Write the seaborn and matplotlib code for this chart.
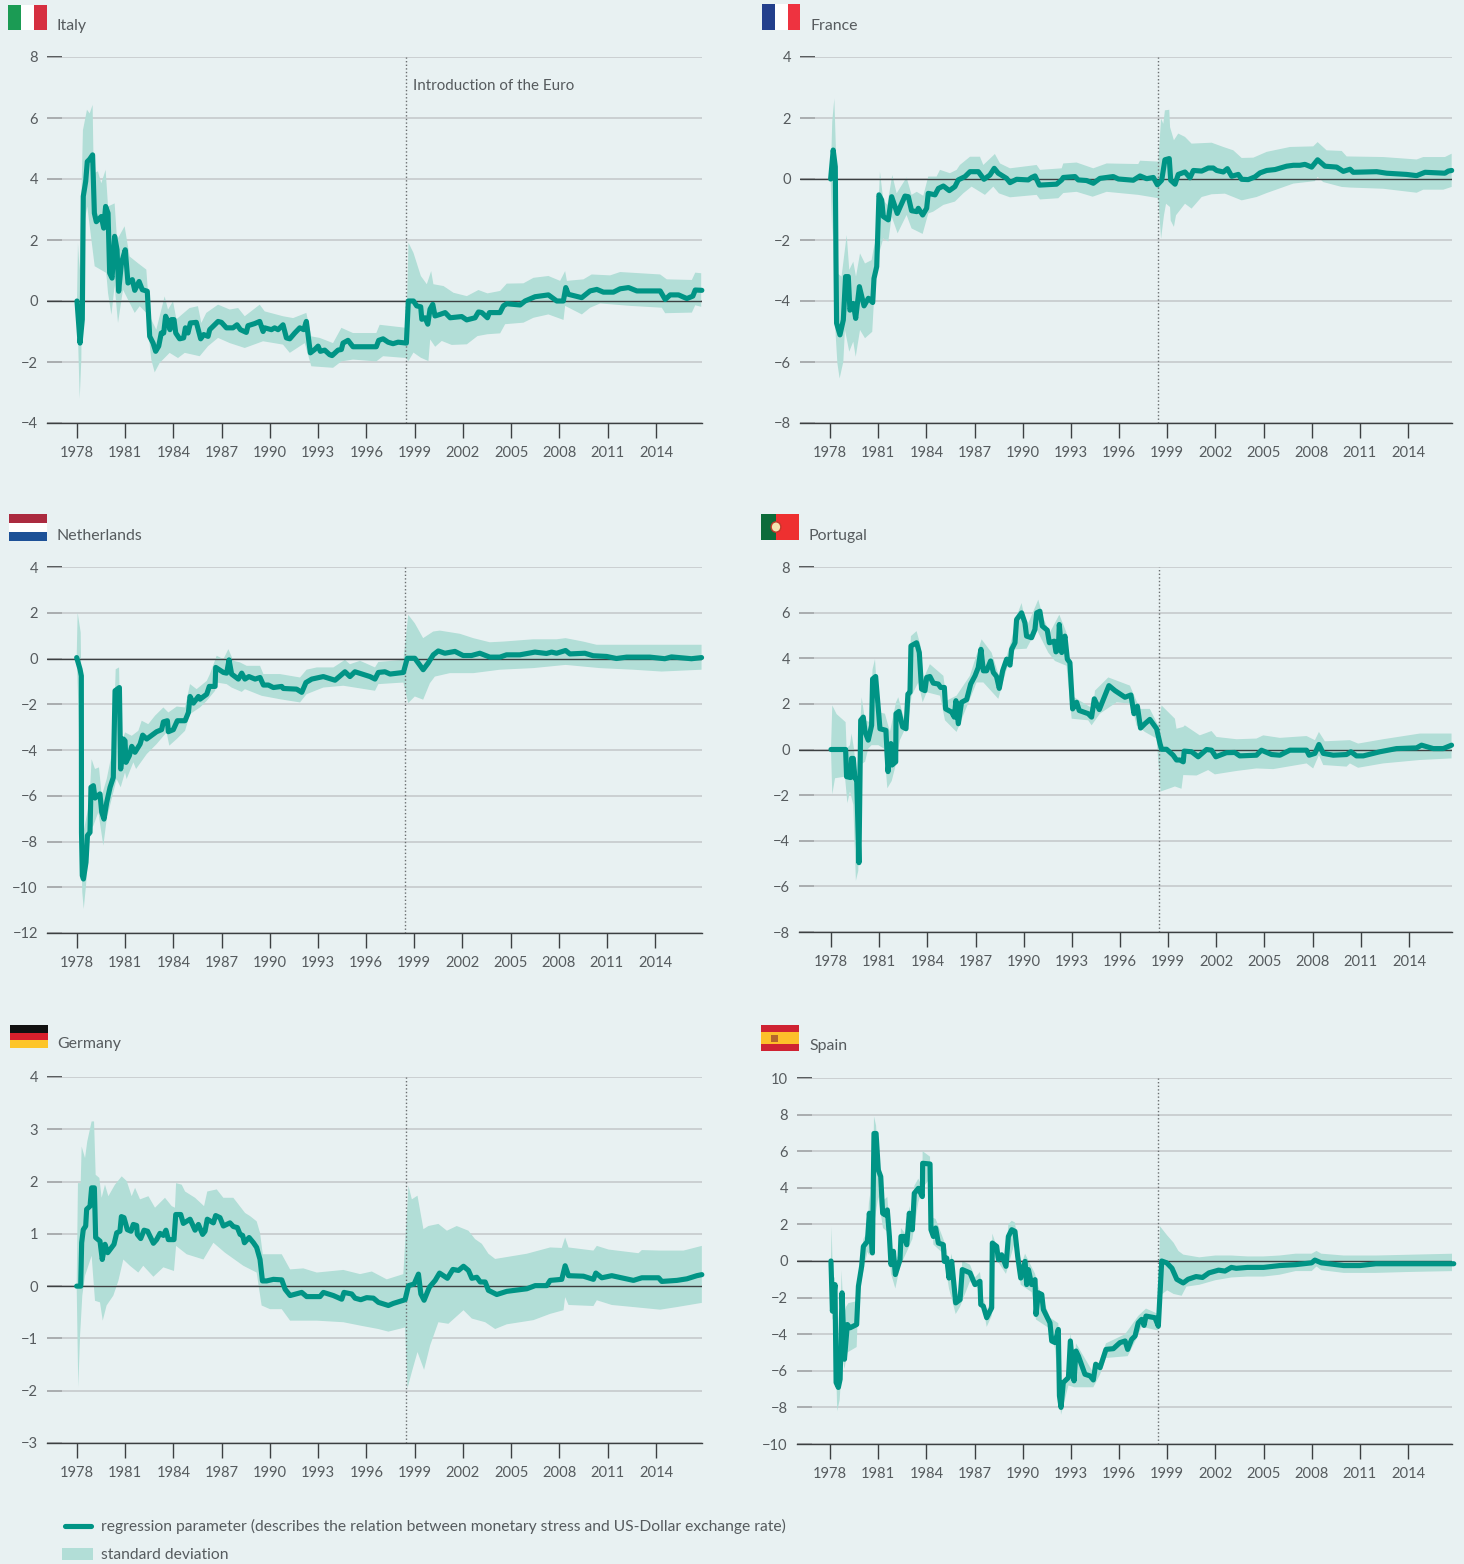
import numpy as np
import matplotlib
matplotlib.use("Agg")
import matplotlib.pyplot as plt
from matplotlib.lines import Line2D
from matplotlib.patches import Rectangle, Circle
import seaborn as sns

W, H = 1464, 1564
TEAL = "#009485"
BAND = "#b2ded7"
BG = "#e8f1f2"
TXT = "#565b5e"

years = list(range(1978, 2015, 3))

# Italy
italy_x = [1978.0,1978.19,1978.33,1978.39,1978.54,1978.64,1978.79,1978.97,1979.08,1979.2,1979.51,1979.66,1979.78,1979.93,1980.03,1980.18,1980.34,1980.49,1980.59,1980.76,1981.0,1981.17,1981.44,1981.59,1981.86,1982.06,1982.37,1982.52,1982.73,1982.89,1983.08,1983.24,1983.39,1983.51,1983.68,1983.78,1983.87,1984.03,1984.14,1984.38,1984.63,1984.74,1984.9,1985.05,1985.42,1985.69,1985.88,1986.15,1986.25,1986.77,1986.98,1987.29,1987.7,1987.95,1988.16,1988.53,1988.63,1989.05,1989.36,1989.57,1989.67,1990.09,1990.29,1990.5,1990.81,1991.02,1991.23,1991.54,1991.85,1992.1,1992.26,1992.51,1992.78,1992.99,1993.13,1993.4,1993.71,1993.86,1994.23,1994.44,1994.54,1994.85,1995.16,1996.61,1996.76,1997.03,1997.34,1997.65,1997.96,1998.48,1998.6,1998.92,1999.12,1999.37,1999.44,1999.64,1999.81,1999.95,2000.12,2000.26,2000.57,2000.89,2001.2,2001.92,2002.23,2002.75,2002.96,2003.17,2003.52,2003.64,2004.3,2004.51,2004.72,2005.55,2005.86,2006.48,2007.31,2007.83,2008.24,2008.39,2008.55,2009.38,2009.9,2010.32,2010.73,2011.35,2011.77,2012.29,2012.81,2014.26,2014.57,2014.88,2015.4,2015.92,2016.29,2016.44,2016.85]
italy_y = [0,-1.38,-0.6,3.43,3.92,4.57,4.65,4.79,2.88,2.6,2.77,2.39,3.1,2.88,0.92,0.75,2.12,1.68,0.32,1.24,1.68,0.59,0.7,0.35,0.64,0.37,0.32,-1.16,-1.38,-1.65,-1.48,-1.05,-1.05,-0.5,-0.72,-0.94,-0.61,-0.61,-1.05,-1.24,-1.21,-0.88,-1.05,-0.72,-0.7,-1.24,-1.1,-1.16,-0.94,-0.67,-0.7,-0.88,-0.88,-0.78,-0.94,-1.03,-0.81,-0.74,-0.67,-1.0,-0.88,-0.94,-0.88,-0.94,-0.78,-1.21,-1.24,-1.05,-0.88,-0.94,-0.67,-1.7,-1.59,-1.48,-1.65,-1.61,-1.76,-1.79,-1.61,-1.59,-1.38,-1.29,-1.5,-1.5,-1.29,-1.24,-1.35,-1.4,-1.35,-1.38,0,0,-0.16,-0.19,-0.6,-0.55,-0.76,-0.27,-0.11,-0.49,-0.44,-0.38,-0.55,-0.51,-0.62,-0.55,-0.36,-0.38,-0.55,-0.38,-0.38,-0.16,-0.09,-0.13,0,0.14,0.2,0,0,0.44,0.22,0.11,0.33,0.38,0.29,0.29,0.4,0.44,0.33,0.33,0.05,0.2,0.2,0.08,0.16,0.36,0.35]
italy_hi_x = [1978.0,1978.06,1978.16,1978.37,1978.62,1978.79,1978.97,1979.04,1979.3,1979.51,1979.78,1979.93,1980.34,1980.49,1980.96,1981.27,1981.79,1982.31,1982.52,1982.93,1983.45,1983.66,1983.97,1984.18,1985.0,1985.52,1985.73,1986.04,1986.77,1987.5,1988.02,1988.43,1989.36,1989.67,1990.81,1991.44,1992.26,1992.57,1993.09,1993.92,1994.44,1995.16,1996.61,1996.82,1998.48,1998.61,1998.92,1999.38,1999.75,2000.02,2000.16,2000.79,2001.41,2002.24,2002.96,2003.52,2004.31,2004.72,2005.76,2006.38,2007.31,2008.04,2008.35,2008.46,2009.49,2010.0,2011.15,2011.77,2014.26,2014.67,2016.23,2016.44,2016.81]
italy_hi = [0,1.9,1.0,5.6,6.27,6.15,6.43,4.19,4.25,3.86,4.3,3.1,3.2,2.0,2.45,1.46,1.24,1.03,-0.5,-0.94,0.15,-0.28,-0.01,-0.6,-0.23,-0.17,-0.72,-0.39,-0.12,-0.28,-0.23,-0.5,-0.12,-0.34,-0.5,-0.56,-0.39,-1.16,-1.21,-1.38,-0.88,-1.05,-1.05,-0.78,-0.88,1.91,1.58,0.82,0.55,0.98,0.55,0.49,0.27,0.16,0.36,0.25,0.33,0.57,0.58,0.76,0.82,0.66,0.98,0.66,0.71,0.87,0.84,0.95,0.87,0.71,0.69,0.93,0.91]
italy_lo_x = [1978.0,1978.17,1978.27,1978.33,1978.64,1979.1,1979.82,1979.93,1980.14,1980.34,1980.55,1980.86,1981.59,1981.9,1982.31,1982.62,1982.83,1983.14,1983.76,1984.28,1984.7,1985.63,1986.15,1986.77,1987.5,1988.43,1989.57,1990.81,1991.23,1992.16,1992.57,1993.92,1994.44,1995.16,1996.61,1997.03,1998.48,1998.61,1998.92,1999.38,1999.85,1999.96,2000.27,2000.68,2001.3,2002.24,2002.9,2003.52,2004.31,2004.62,2005.76,2006.38,2007.31,2008.25,2008.35,2009.39,2009.91,2010.53,2012.4,2014.36,2014.57,2016.23,2016.44,2016.81]
italy_lo = [0,-3.2,-1.9,2.2,3.1,1.14,0.92,0.26,-0.45,0.5,-0.72,0.37,-0.39,-0.17,-0.39,-1.92,-2.34,-2.03,-1.7,-1.87,-1.7,-1.81,-1.48,-1.21,-1.38,-1.54,-1.32,-1.43,-1.7,-1.38,-2.14,-2.19,-1.98,-1.92,-1.98,-1.81,-1.87,-1.97,-1.69,-1.86,-1.97,-1.26,-1.5,-1.31,-1.44,-1.42,-1.15,-1.09,-1.06,-0.76,-0.71,-0.55,-0.44,-0.62,-0.16,-0.44,-0.22,-0.08,-0.16,-0.22,-0.4,-0.38,-0.14,-0.19]

# France
france_x = [1978.04,1978.2,1978.33,1978.37,1978.41,1978.62,1978.83,1978.97,1979.14,1979.24,1979.45,1979.6,1979.83,1980.12,1980.39,1980.66,1980.74,1980.91,1981.05,1981.22,1981.32,1981.63,1981.84,1982.19,1982.67,1982.88,1983.08,1983.4,1983.5,1983.77,1984.02,1984.12,1984.54,1984.75,1985.06,1985.43,1985.78,1985.99,1986.41,1986.72,1987.24,1987.59,1987.96,1988.23,1988.48,1989.0,1989.21,1989.62,1990.35,1990.56,1990.77,1991.04,1992.11,1992.43,1992.53,1993.26,1993.46,1993.98,1994.4,1994.81,1995.64,1995.96,1996.89,1997.31,1997.72,1998.14,1998.39,1998.66,1998.86,1999.13,1999.22,1999.49,1999.69,2000.11,2000.42,2000.63,2001.15,2001.56,2001.87,2002.08,2002.5,2002.75,2003.02,2003.43,2003.64,2004.05,2004.47,2004.78,2005.2,2005.72,2006.44,2006.86,2007.27,2007.58,2008.0,2008.37,2008.83,2009.56,2009.97,2010.39,2010.59,2012.05,2012.67,2013.91,2014.54,2015.06,2016.3,2016.51,2016.72]
france_y = [0,0.95,0.4,-2.55,-4.73,-5.11,-4.62,-3.2,-3.2,-4.3,-4.08,-4.57,-3.53,-4.16,-3.91,-4.05,-3.26,-2.87,-0.52,-0.69,-1.23,-1.34,-0.58,-1.13,-0.56,-0.58,-1.04,-1.07,-0.96,-1.18,-0.96,-0.47,-0.52,-0.31,-0.23,-0.38,-0.25,-0.03,0.08,0.24,0.24,-0.01,0.13,0.35,0.19,0.02,-0.12,-0.01,-0.03,0.05,0.1,-0.2,-0.17,-0.03,0.05,0.08,-0.03,-0.05,-0.14,0.02,0.08,0,-0.04,0.1,0.01,0.05,-0.19,-0.04,0.63,0.67,-0.04,-0.17,0.15,0.23,0.04,0.28,0.26,0.36,0.36,0.28,0.23,0.34,0.09,0.15,-0.01,-0.02,0.07,0.2,0.28,0.31,0.42,0.45,0.45,0.48,0.39,0.63,0.42,0.39,0.25,0.32,0.22,0.24,0.19,0.15,0.11,0.22,0.19,0.26,0.28]
france_hi_x = [1978.04,1978.14,1978.27,1978.37,1978.46,1978.72,1979.04,1979.2,1979.45,1979.62,1979.87,1980.18,1980.59,1980.7,1980.95,1981.11,1981.32,1981.57,1981.88,1982.15,1982.77,1983.08,1983.4,1983.81,1984.12,1984.64,1984.85,1985.47,1985.89,1986.09,1986.72,1987.34,1987.55,1988.27,1988.59,1989.21,1990.87,1991.08,1992.43,1992.53,1993.36,1994.4,1995.23,1997.2,1997.31,1998.45,1998.62,1998.76,1998.86,1999.13,1999.18,1999.42,1999.69,2000.11,2000.52,2001.77,2002.5,2003.12,2003.64,2004.37,2005.2,2006.65,2008.1,2008.37,2008.93,2009.87,2010.18,2012.46,2014.54,2014.95,2016.3,2016.72]
france_hi = [0,1.88,2.64,0.95,-3.09,-3.2,-1.84,-2.98,-2.71,-3.2,-2.44,-2.77,-2.66,-2.33,-1.78,0.24,-0.69,-0.85,0.13,-0.47,0.05,-0.52,-0.42,-0.55,0.08,0.08,0.3,0.19,0.3,0.46,0.73,0.73,0.46,0.82,0.51,0.35,0.46,0.3,0.35,0.51,0.54,0.35,0.51,0.49,0.6,0.57,1.98,1.81,2.25,2.27,1.7,1.27,1.49,1.38,1.16,1.19,1.05,0.94,0.69,0.7,0.89,1.05,1.07,1.21,0.94,0.92,0.74,0.72,0.64,0.72,0.72,0.83]
france_lo_x = [1978.04,1978.14,1978.2,1978.31,1978.46,1978.6,1978.83,1978.93,1979.2,1979.45,1979.6,1979.87,1980.18,1980.63,1980.74,1981.0,1981.32,1981.63,1981.84,1982.21,1982.77,1983.08,1983.77,1984.12,1984.43,1985.06,1985.78,1986.3,1986.82,1987.65,1988.17,1988.52,1989.21,1990.87,1991.08,1992.22,1992.53,1993.36,1994.36,1995.23,1997.2,1998.45,1998.62,1998.8,1998.93,1999.18,1999.22,1999.42,1999.55,2000.11,2000.52,2001.15,2001.77,2002.6,2003.64,2004.57,2005.2,2006.86,2008.2,2008.37,2008.72,2009.87,2010.39,2012.46,2014.54,2014.95,2016.2,2016.72]
france_lo = [0,-1.89,-0.36,-4.73,-6.04,-6.54,-5.99,-4.95,-5.66,-5.33,-5.83,-4.95,-5.22,-5.01,-3.97,-2.55,-1.95,-2.05,-1.23,-1.78,-1.18,-1.62,-1.8,-1.13,-1.07,-0.85,-0.74,-0.47,-0.25,-0.52,-0.25,-0.47,-0.6,-0.52,-0.67,-0.63,-0.46,-0.42,-0.58,-0.42,-0.52,-0.63,-1.96,-1.19,-0.81,-0.92,-1.36,-1.57,-1.19,-0.81,-0.97,-0.59,-0.5,-0.48,-0.7,-0.59,-0.46,-0.15,-0.07,0.07,-0.1,-0.26,-0.28,-0.32,-0.45,-0.35,-0.35,-0.26]

# Netherlands
nl_x = [1977.98,1978.19,1978.27,1978.28,1978.33,1978.4,1978.56,1978.65,1978.81,1978.87,1979.02,1979.12,1979.43,1979.54,1979.68,1979.85,1980.06,1980.26,1980.37,1980.64,1980.72,1980.89,1980.99,1981.05,1981.26,1981.41,1981.61,1981.93,1982.09,1982.34,1982.96,1983.27,1983.38,1983.63,1983.69,1984.0,1984.25,1984.73,1984.94,1985.04,1985.25,1985.56,1985.66,1986.08,1986.24,1986.6,1986.64,1987.12,1987.32,1987.47,1987.63,1988.05,1988.26,1988.46,1988.71,1989.09,1989.4,1989.61,1989.92,1990.23,1990.75,1990.85,1991.68,1992.0,1992.26,1992.62,1993.34,1994.07,1994.69,1995.0,1995.31,1996.25,1996.56,1996.77,1997.18,1997.5,1998.33,1998.57,1999.04,1999.56,1999.87,2000.19,2000.5,2000.91,2001.54,2002.05,2002.57,2003.09,2003.71,2004.34,2004.75,2005.58,2006.52,2007.24,2007.56,2007.87,2008.43,2008.7,2009.63,2010.15,2010.98,2011.6,2012.23,2013.68,2014.61,2015.03,2016.27,2016.9]
nl_y = [0.04,-0.47,-0.76,-7.6,-9.49,-9.64,-8.91,-7.74,-7.6,-5.63,-5.56,-6.1,-5.92,-6.72,-7.02,-6.29,-5.63,-5.2,-1.41,-1.27,-4.83,-3.52,-3.6,-4.54,-4.25,-3.84,-4.1,-3.74,-3.35,-3.52,-3.2,-3.11,-2.77,-2.72,-3.2,-3.11,-2.72,-2.72,-2.36,-1.66,-1.95,-1.66,-1.78,-1.56,-1.22,-1.22,-0.39,-0.61,-0.64,-0.06,-0.68,-0.9,-0.64,-0.9,-0.79,-0.9,-0.83,-1.16,-1.16,-1.27,-1.22,-1.31,-1.34,-1.48,-1.05,-0.9,-0.79,-0.95,-0.58,-0.79,-0.58,-0.79,-0.9,-0.61,-0.58,-0.68,-0.61,0.01,0.01,-0.49,-0.2,0.16,0.33,0.23,0.31,0.13,0.13,0.23,0.06,0.06,0.16,0.16,0.28,0.22,0.28,0.23,0.35,0.2,0.23,0.12,0.09,0,0.06,0.06,-0.01,0.07,-0.01,0.04]
nl_hi_x = [1977.98,1978.04,1978.23,1978.31,1978.4,1978.77,1978.91,1979.12,1979.37,1979.54,1979.85,1980.06,1980.26,1980.41,1980.62,1980.72,1980.99,1981.41,1981.82,1982.03,1982.44,1982.86,1983.38,1983.69,1984.21,1984.73,1985.04,1985.45,1986.08,1986.28,1986.7,1987.12,1987.43,1987.74,1988.15,1988.57,1989.4,1989.61,1990.64,1991.89,1992.3,1992.93,1993.97,1994.69,1995.0,1995.63,1996.56,1996.77,1998.33,1998.63,1999.04,1999.56,2000.19,2000.6,2001.85,2002.68,2003.71,2004.55,2006.41,2007.87,2008.43,2009.53,2010.36,2012.64,2016.9]
nl_hi = [0.04,2.01,1.14,-3.23,-7.6,-6.29,-4.4,-4.83,-4.76,-6.0,-5.27,-4.54,-3.96,-0.47,-0.39,-3.81,-3.23,-3.38,-3.16,-2.72,-2.87,-2.5,-2.14,-2.36,-2.1,-2.14,-1.12,-1.34,-0.98,-0.68,0.12,-0.03,0.41,-0.1,-0.17,-0.32,-0.32,-0.68,-0.68,-0.83,-0.49,-0.39,-0.39,-0.06,-0.25,-0.1,-0.39,-0.15,-0.06,1.91,1.54,0.89,1.18,1.22,1.08,0.89,0.71,0.74,0.84,0.84,0.89,0.74,0.6,0.6,0.6]
nl_lo_x = [1977.98,1978.08,1978.33,1978.42,1978.56,1978.71,1978.85,1979.02,1979.33,1979.64,1979.85,1980.16,1980.47,1980.72,1980.99,1981.09,1981.51,1981.68,1982.34,1982.96,1983.58,1983.75,1984.21,1984.73,1985.04,1985.66,1986.08,1986.6,1986.7,1987.32,1987.63,1988.26,1988.46,1989.5,1990.64,1991.89,1992.3,1993.34,1994.59,1996.56,1996.77,1998.33,1998.63,1999.04,1999.56,1999.98,2000.29,2001.22,2002.68,2004.34,2006.41,2008.43,2010.57,2012.64,2014.41,2016.9]
nl_lo = [0.04,-1.92,-10.22,-10.95,-9.93,-8.47,-7.45,-7.31,-6.72,-8.18,-7.02,-6.14,-5.27,-5.63,-4.98,-5.27,-4.54,-4.83,-4.18,-3.74,-3.23,-3.81,-3.52,-3.16,-2.43,-2.14,-1.85,-1.41,-1.05,-1.12,-1.27,-1.46,-1.34,-1.63,-1.78,-1.92,-1.56,-1.27,-1.19,-1.41,-1.12,-1.05,-1.95,-1.66,-1.8,-1.08,-0.79,-0.64,-0.64,-0.49,-0.42,-0.28,-0.42,-0.49,-0.57,-0.49]

# Portugal
portugal_x = [1978.0,1978.91,1978.97,1979.22,1979.28,1979.39,1979.49,1979.6,1979.74,1979.85,1980.01,1980.12,1980.32,1980.53,1980.59,1980.78,1981.05,1981.42,1981.55,1981.73,1981.8,1982.03,1982.05,1982.23,1982.46,1982.67,1982.79,1982.92,1982.98,1983.33,1983.5,1983.64,1983.85,1983.96,1984.16,1984.37,1984.68,1984.83,1985.06,1985.14,1985.51,1985.68,1985.78,1985.93,1986.13,1986.45,1986.7,1986.97,1987.17,1987.34,1987.49,1987.69,1987.94,1988.11,1988.31,1988.48,1988.69,1988.94,1989.15,1989.25,1989.46,1989.56,1989.87,1990.08,1990.18,1990.49,1990.7,1990.81,1991.01,1991.16,1991.47,1991.6,1991.91,1992.01,1992.16,1992.22,1992.37,1992.57,1992.72,1992.88,1993.05,1993.3,1993.46,1994.02,1994.23,1994.4,1994.71,1995.31,1995.69,1996.31,1996.68,1996.87,1997.08,1997.28,1997.55,1997.86,1998.28,1998.49,1998.59,1998.9,1999.31,1999.52,1999.73,1999.94,2000.0,2000.46,2000.87,2001.39,2001.7,2001.97,2002.63,2003.15,2003.46,2004.5,2004.81,2005.44,2005.96,2006.58,2007.62,2007.78,2008.14,2008.39,2008.66,2009.28,2010.11,2010.38,2010.73,2011.15,2012.18,2013.22,2014.47,2014.78,2015.51,2016.13,2016.65]
portugal_y = [0,0,-1.19,-1.23,-0.39,-0.39,-1.26,-1.33,-4.96,1.28,1.42,0.77,0.41,1.06,3.09,3.2,0.91,0.84,-0.97,0.26,-0.68,-0.54,1.57,1.67,0.99,0.91,2.43,2.51,4.54,4.68,4.25,2.65,2.58,3.16,3.2,2.91,2.87,2.72,2.72,1.78,1.64,1.42,2.14,1.13,2.07,2.19,2.87,3.23,3.59,4.39,3.45,3.45,3.88,3.38,3.2,2.68,3.45,3.96,3.7,4.39,4.68,5.7,5.99,5.55,4.97,4.9,5.26,5.99,6.06,5.41,5.23,4.68,4.75,4.28,4.39,5.48,4.25,4.97,3.96,3.81,1.78,2.07,1.71,1.57,1.42,2.22,1.75,2.8,2.58,2.29,2.39,1.57,1.9,0.94,1.13,1.32,0.91,0.26,0.01,0.01,-0.25,-0.46,-0.46,-0.54,-0.07,-0.1,-0.32,0,-0.03,-0.32,-0.14,-0.13,-0.28,-0.25,-0.03,-0.22,-0.25,-0.03,-0.03,-0.25,-0.17,0.22,-0.17,-0.25,-0.22,-0.1,-0.28,-0.28,-0.1,0.04,0.07,0.19,0.04,0.04,0.19]
portugal_hi_x = [1978.0,1978.08,1978.35,1978.91,1978.97,1979.18,1979.28,1979.43,1979.6,1979.8,1979.91,1980.12,1980.43,1980.59,1980.74,1980.95,1981.36,1981.67,1982.05,1982.19,1982.61,1982.81,1982.98,1983.33,1983.58,1983.75,1984.16,1985.0,1985.2,1985.82,1986.65,1987.38,1988.0,1988.52,1989.25,1989.56,1989.87,1990.18,1990.91,1991.22,1991.63,1992.22,1992.67,1992.99,1993.5,1994.33,1994.44,1995.27,1996.62,1997.24,1997.86,1998.38,1998.59,1999.42,1999.52,1999.94,2000.04,2000.97,2001.7,2002.01,2003.26,2004.5,2004.92,2005.96,2007.62,2008.14,2008.39,2008.76,2010.32,2010.83,2012.39,2014.68,2016.65]
portugal_hi = [0,1.93,1.55,1.2,0.04,0.19,0.7,0.04,-1.12,0.77,2.29,1.28,1.2,3.52,3.96,1.64,1.57,0.77,2.07,2.29,1.2,2.8,4.97,5.19,4.54,3.09,3.74,3.23,2.14,2.36,3.23,4.83,4.25,3.09,4.83,5.84,6.42,5.35,6.57,5.77,5.12,5.91,5.12,2.36,2.14,1.78,2.58,3.16,2.8,1.78,1.78,1.06,1.93,1.35,0.91,0.99,1.06,0.62,0.81,0.55,0.45,0.48,0.62,0.51,0.59,0.41,0.77,0.36,0.41,0.26,0.45,0.7,0.7]
portugal_lo_x = [1978.0,1978.08,1978.25,1978.87,1979.02,1979.18,1979.39,1979.55,1979.7,1979.8,1980.12,1980.32,1980.53,1980.95,1981.3,1981.51,1981.78,1981.98,1982.29,1982.81,1983.02,1983.44,1983.71,1983.96,1984.79,1985.1,1985.82,1986.45,1987.07,1987.49,1988.42,1988.94,1989.46,1990.18,1990.81,1991.53,1991.95,1992.67,1992.99,1994.02,1994.23,1994.75,1995.79,1996.72,1997.03,1997.55,1998.28,1998.53,1999.11,1999.42,1999.83,1999.94,2000.77,2001.49,2001.91,2003.26,2004.5,2005.54,2007.62,2008.03,2008.39,2008.66,2010.11,2010.32,2010.83,2012.39,2014.68,2016.65]
portugal_lo = [0,-1.97,-1.26,-1.19,-2.35,-1.84,-2.42,-5.75,-5.32,-0.68,-0.54,0.04,0.19,0.19,0.04,-1.7,-1.38,-0.83,0.41,1.2,2.36,2.94,2.07,2.51,2.36,1.28,0.77,1.86,2.94,2.94,2.22,3.52,4.39,4.42,5.26,4.25,3.88,3.67,1.35,1.28,1.06,1.57,2.07,2.0,1.06,0.77,0.48,-1.84,-1.7,-1.62,-1.72,-1.12,-1.14,-0.9,-1.09,-0.94,-0.83,-0.86,-0.61,-0.83,-0.25,-0.68,-0.75,-0.61,-0.8,-0.61,-0.46,-0.39]

# Germany
germany_x = [1977.98,1978.23,1978.29,1978.39,1978.54,1978.6,1978.81,1978.91,1979.08,1979.16,1979.43,1979.57,1979.74,1979.91,1980.3,1980.47,1980.67,1980.76,1980.92,1981.13,1981.36,1981.5,1981.71,1981.75,1981.96,1982.17,1982.39,1982.75,1982.95,1983.16,1983.37,1983.53,1983.68,1984.03,1984.14,1984.45,1984.61,1985.03,1985.34,1985.55,1985.81,1985.96,1986.1,1986.48,1986.62,1986.89,1987.1,1987.51,1987.72,1987.97,1988.14,1988.3,1988.41,1988.7,1988.97,1989.17,1989.38,1989.53,1989.79,1990.21,1990.73,1990.94,1991.25,1991.97,1992.28,1993.11,1993.32,1993.94,1994.46,1994.6,1995.08,1995.29,1995.64,1996.01,1996.43,1996.74,1997.36,1997.67,1998.4,1998.61,1998.96,1999.23,1999.38,1999.58,1999.91,2000.27,2000.54,2001.03,2001.37,2001.72,2002.03,2002.34,2002.55,2002.86,2003.07,2003.38,2003.58,2004.1,2004.72,2005.97,2006.49,2007.21,2007.42,2008.14,2008.35,2008.56,2009.49,2010.11,2010.26,2010.63,2011.25,2012.6,2013.12,2014.16,2014.36,2015.3,2015.92,2016.54,2016.85]
germany_y = [0,0,0.83,1.08,1.15,1.47,1.53,1.88,1.88,0.93,0.86,0.51,0.8,0.64,0.8,1.02,1.05,1.33,1.31,1.08,1.05,1.18,1.16,0.99,0.91,1.07,1.05,0.82,0.89,1.01,0.97,1.07,0.89,0.89,1.37,1.37,1.2,1.28,1.07,1.18,0.99,1.05,1.28,1.21,1.35,1.31,1.15,1.21,1.14,1.12,0.99,0.97,0.83,0.93,0.83,0.74,0.51,0.1,0.1,0.13,0.12,-0.06,-0.18,-0.12,-0.2,-0.2,-0.12,-0.18,-0.25,-0.12,-0.15,-0.23,-0.26,-0.22,-0.23,-0.31,-0.37,-0.33,-0.26,0.01,0.04,0.23,-0.15,-0.27,-0.02,0.11,0.25,0.15,0.32,0.3,0.38,0.3,0.15,0.17,0.08,0.08,-0.08,-0.16,-0.1,-0.05,0.01,0.01,0.11,0.13,0.39,0.2,0.19,0.13,0.25,0.16,0.2,0.11,0.16,0.16,0.09,0.11,0.14,0.2,0.22]
germany_hi_x = [1977.98,1978.06,1978.23,1978.29,1978.5,1978.64,1978.91,1979.06,1979.16,1979.39,1979.53,1979.74,1979.95,1980.36,1980.78,1981.09,1981.4,1981.61,1981.92,1982.44,1982.85,1983.47,1983.89,1984.09,1984.16,1984.51,1984.72,1985.34,1985.9,1986.1,1986.69,1987.1,1987.72,1988.45,1988.76,1989.17,1989.38,1989.55,1990.73,1991.25,1992.07,1992.91,1994.56,1995.6,1996.33,1997.26,1998.29,1998.61,1998.82,1999.17,1999.54,1999.85,2000.47,2001.0,2001.61,2002.34,2002.75,2003.17,2003.58,2004.0,2005.97,2007.42,2008.14,2008.35,2008.56,2010.11,2010.32,2011.05,2012.91,2013.12,2014.26,2015.71,2016.85]
germany_hi = [0,1.97,1.97,2.67,2.45,2.77,3.15,3.15,2.13,2.07,1.69,1.94,1.72,1.94,2.1,2.01,1.72,1.88,1.66,1.72,1.5,1.69,1.53,1.5,1.97,1.94,1.81,1.69,1.53,1.81,1.85,1.69,1.69,1.4,1.34,1.24,1.02,0.61,0.61,0.32,0.34,0.26,0.31,0.23,0.28,0.13,0.23,1.92,1.66,1.73,1.09,1.15,1.19,1.06,1.15,1.06,0.9,0.81,0.62,0.52,0.62,0.74,0.73,0.93,0.74,0.68,0.77,0.7,0.63,0.69,0.68,0.68,0.77]
germany_lo_x = [1977.98,1978.08,1978.19,1978.33,1978.5,1978.91,1979.12,1979.43,1979.6,1979.84,1980.26,1980.57,1980.88,1981.29,1981.81,1982.12,1982.75,1983.37,1984.03,1984.16,1984.82,1985.86,1986.48,1987.2,1988.34,1989.17,1989.48,1990.0,1990.73,1991.25,1992.91,1994.56,1995.7,1996.74,1997.36,1998.4,1998.55,1998.82,1999.17,1999.58,1999.96,2000.47,2001.09,2002.03,2002.55,2003.38,2004.0,2004.72,2006.38,2007.42,2008.25,2008.35,2008.56,2010.11,2010.32,2011.25,2012.6,2014.26,2015.3,2016.85]
germany_lo = [0,-1.93,-0.95,-0.18,0.2,0.58,-0.28,-0.31,-0.66,-0.37,-0.18,0.1,0.51,0.39,0.26,0.39,0.18,0.36,0.29,0.77,0.61,0.51,0.83,0.64,0.39,0.26,-0.37,-0.44,-0.44,-0.66,-0.66,-0.69,-0.76,-0.82,-0.87,-0.79,-1.95,-1.64,-1.26,-1.6,-1.13,-0.69,-0.72,-0.46,-0.62,-0.69,-0.82,-0.73,-0.65,-0.53,-0.46,-0.21,-0.36,-0.38,-0.27,-0.36,-0.4,-0.45,-0.4,-0.32]

# Spain
spain_x = [1978.06,1978.15,1978.31,1978.38,1978.52,1978.63,1978.75,1978.9,1979.08,1979.25,1979.66,1979.77,1979.97,1980.08,1980.33,1980.45,1980.64,1980.74,1980.87,1981.01,1981.16,1981.28,1981.43,1981.57,1981.7,1981.8,1981.95,1982.07,1982.36,1982.42,1982.61,1982.78,1982.94,1983.13,1983.25,1983.5,1983.75,1983.77,1984.23,1984.29,1984.44,1984.58,1984.75,1985.06,1985.12,1985.27,1985.41,1985.58,1985.83,1986.1,1986.24,1986.72,1987.03,1987.34,1987.39,1987.55,1987.76,1988.07,1988.11,1988.38,1988.49,1988.69,1988.96,1989.11,1989.32,1989.52,1989.69,1989.88,1990.15,1990.25,1990.36,1990.56,1990.77,1990.83,1990.98,1991.19,1991.29,1991.7,1991.81,1992.02,1992.22,1992.29,1992.39,1992.53,1992.85,1992.97,1993.2,1993.32,1993.47,1993.88,1994.2,1994.4,1994.55,1994.82,1995.19,1995.65,1996.06,1996.38,1996.54,1996.79,1997.0,1997.2,1997.41,1997.56,1997.68,1998.24,1998.45,1998.66,1998.97,1999.3,1999.6,2000.0,2000.3,2000.8,2001.2,2001.6,2002.2,2002.6,2003.0,2003.3,2004.0,2005.0,2006.0,2007.0,2008.0,2008.2,2008.6,2009.5,2010.0,2011.0,2012.0,2014.0,2015.0,2016.85]
spain_y = [0,-2.74,-1.29,-6.64,-6.91,-6.46,-1.74,-5.37,-3.47,-3.65,-3.47,-1.38,-0.29,0.8,1.07,2.61,0.44,6.97,6.97,4.97,4.61,2.61,2.52,2.79,1.34,-0.2,0.53,-0.74,0.07,1.34,1.34,0.89,2.61,1.71,3.7,3.97,3.52,5.34,5.3,1.71,1.34,1.8,0.98,0.89,-0.02,0.16,-0.93,-0.02,-2.29,-2.11,-0.47,-0.65,-1.29,-1.11,-2.38,-2.47,-3.1,-2.56,0.98,0.8,0.07,0.34,-0.29,1.34,1.71,1.62,0.25,-0.93,-0.02,-1.29,-0.47,-1.29,-1.02,-2.92,-1.74,-1.83,-2.65,-3.38,-4.37,-4.46,-3.74,-7.37,-8.0,-6.64,-6.37,-4.37,-6.55,-4.92,-5.19,-6.19,-6.28,-6.5,-5.64,-5.83,-4.83,-4.79,-4.46,-4.37,-4.83,-4.28,-4.1,-3.38,-3.19,-3.52,-3.01,-3.1,-3.56,0,-0.1,-0.4,-1.0,-1.2,-1.0,-0.85,-0.9,-0.65,-0.5,-0.55,-0.35,-0.4,-0.35,-0.35,-0.25,-0.2,-0.1,0.05,-0.1,-0.2,-0.25,-0.25,-0.15,-0.15,-0.15,-0.15]
spain_hi_x = [1978.06,1978.1,1978.18,1978.3,1978.4,1978.6,1978.72,1978.85,1979.0,1979.15,1979.66,1979.77,1979.97,1980.08,1980.33,1980.45,1980.64,1980.74,1980.87,1981.01,1981.16,1981.3,1981.57,1981.7,1981.8,1982.07,1982.36,1982.42,1982.78,1982.94,1983.13,1983.25,1983.5,1983.75,1983.77,1984.23,1984.29,1984.58,1985.06,1985.27,1985.41,1985.58,1985.83,1986.1,1986.24,1986.72,1987.03,1987.34,1987.55,1987.76,1988.07,1988.11,1988.49,1988.96,1989.11,1989.32,1989.52,1989.88,1990.15,1990.77,1990.98,1991.7,1992.22,1992.39,1992.85,1992.97,1993.2,1993.32,1994.4,1994.82,1995.19,1996.38,1997.2,1997.68,1998.45,1998.55,1999.0,1999.4,1999.7,2000.0,2001.0,2002.0,2003.0,2004.0,2005.0,2006.0,2007.0,2008.0,2008.3,2008.6,2010.0,2012.0,2016.85]
spain_hi = [0,1.89,-0.9,-0.9,-4.5,-5.5,-0.5,-3,-2.5,-2.3,-2.2,-0.9,0.3,1.2,1.6,3.6,1.5,7.9,7.4,5.4,5,3.3,3.5,2,0.3,0,0.5,1.8,1.4,3,2.1,4.1,4.5,4,6,5.7,2.4,2.3,1.2,0.6,-0.3,0.4,-1.9,-1.7,0,-0.2,-0.9,-0.6,-2,-2.7,-2.1,1.5,0.5,0.2,2,2.2,2.1,-0.3,0.4,-0.7,-1.4,-3.1,-3.4,-7.5,-6,-3.9,-6,-4.5,-6.1,-5.4,-4.5,-4,-3,-2.6,-2.9,1.9,1.4,1.0,0.55,0.35,0.2,0.3,0.3,0.25,0.25,0.3,0.4,0.4,0.55,0.4,0.3,0.3,0.4]
spain_lo_x = [1978.06,1978.15,1978.3,1978.45,1978.6,1978.78,1978.9,1979.08,1979.66,1979.77,1979.97,1980.33,1980.45,1980.74,1981.01,1981.3,1981.57,1981.8,1982.07,1982.36,1982.78,1983.13,1983.5,1983.77,1984.23,1984.44,1985.06,1985.41,1985.83,1986.1,1986.72,1987.34,1987.76,1988.07,1988.2,1988.96,1989.5,1989.88,1990.56,1990.83,1991.7,1992.02,1992.39,1992.85,1993.2,1994.4,1994.82,1995.19,1996.54,1997.0,1997.41,1998.45,1998.55,1999.0,1999.4,1999.9,2000.2,2001.0,2002.0,2003.0,2004.0,2005.0,2006.0,2007.0,2008.0,2008.3,2008.6,2010.0,2012.0,2014.0,2016.85]
spain_lo = [0,-3.2,-3,-8.2,-7.6,-5.2,-5.9,-5,-4.7,-2,-1,0.5,0.3,2,3.5,1.8,1.6,-0.7,-1.5,-0.3,0.5,1.2,3.2,4,4.5,0.9,0.4,-1.5,-2.9,-2.5,-1.1,-1.6,-3.6,-3,0.3,-0.7,1,-1.3,-1.7,-3.2,-3.7,-4.8,-8.4,-6.8,-6.9,-6.9,-6.2,-5.3,-5.2,-4.4,-3.6,-3.8,-1.9,-1.6,-1.8,-1.9,-1.4,-1.3,-1.05,-0.9,-0.85,-0.85,-0.75,-0.55,-0.55,-0.3,-0.5,-0.65,-0.65,-0.6,-0.55]

italy_ticks = [8, 6, 4, 2, 0, -2, -4]
france_ticks = [4, 2, 0, -2, -4, -6, -8]
nl_ticks = [4, 2, 0, -2, -4, -6, -8, -10, -12]
portugal_ticks = [8, 6, 4, 2, 0, -2, -4, -6, -8]
germany_ticks = [4, 3, 2, 1, 0, -1, -2, -3]
spain_ticks = [10, 8, 6, 4, 2, 0, -2, -4, -6, -8, -10]

sns.set_theme(style="white", rc={"figure.facecolor": BG, "axes.facecolor": "none"})
plt.rcParams["font.family"] = ["Lato", "DejaVu Sans"]

fig = plt.figure(figsize=(W / 100, H / 100), dpi=100)


def px_rect(x0, y0, x1, y1, color, z=5):
    fig.add_artist(Rectangle((x0 / W, 1 - y1 / H), (x1 - x0) / W, (y1 - y0) / H,
                             transform=fig.transFigure, facecolor=color, edgecolor="none", zorder=z))


def draw_panel(box, x0px, x1px, ticks, x, y, hi_x, hi, lo_x, lo, title, title_xy):
    left, top, right, bottom = box
    ax = fig.add_axes([left / W, 1 - bottom / H, (right - left) / W, (bottom - top) / H])
    k = (x1px - x0px) / 36
    ax.set_xlim(1978 + (left - x0px) / k, 1978 + (right - x0px) / k)
    ax.set_ylim(ticks[-1], ticks[0])

    for t in ticks:
        ax.axhline(t, color="#c3c7c9", lw=1.1, zorder=1)
    ax.fill(np.r_[hi_x, lo_x[::-1]], np.r_[hi, lo[::-1]], color=BAND, lw=0, zorder=2)
    ax.axhline(0, color="#3c4042", lw=1.0, zorder=3)
    ax.axvline(1998.43, color="#6a6e70", lw=1.0, ls=(0, (1, 1.6)), zorder=3)
    sns.lineplot(x=x, y=y, ax=ax, estimator=None, sort=False, color=TEAL, linewidth=3.7,
                 legend=False, zorder=4, clip_on=False, solid_capstyle="round", solid_joinstyle="round")

    ax.set_xticks(years)
    ax.set_yticks(ticks)
    ax.tick_params(axis="y", direction="in", length=11, width=1.1, color="#2e3133",
                   labelsize=10.6, labelcolor=TXT, pad=6.5, left=True)
    ax.tick_params(axis="x", direction="out", length=11, width=1.0, color="#3c4042",
                   labelsize=10.6, labelcolor=TXT, pad=5.5, bottom=True)
    ax.set_xlabel("")
    ax.set_ylabel("")
    for s in ["left", "right", "top"]:
        ax.spines[s].set_visible(False)
    ax.spines["bottom"].set_color("#3c4042")
    ax.spines["bottom"].set_linewidth(1.0)
    fig.text(title_xy[0] / W, 1 - title_xy[1] / H, title, fontsize=11.4, color=TXT, va="baseline")
    return ax


ax_it = draw_panel((47, 57, 702, 423), 77, 656, italy_ticks, italy_x, italy_y,
                   italy_hi_x, italy_hi, italy_lo_x, italy_lo, "Italy", (57, 30))
draw_panel((800, 57, 1452, 423), 830, 1408, france_ticks, france_x, france_y,
           france_hi_x, france_hi, france_lo_x, france_lo, "France", (811, 30))
draw_panel((47, 567, 702, 933), 77, 655, nl_ticks, nl_x, nl_y,
           nl_hi_x, nl_hi, nl_lo_x, nl_lo, "Netherlands", (56, 540))
draw_panel((799, 567, 1452, 932), 831, 1409, portugal_ticks, portugal_x, portugal_y,
           portugal_hi_x, portugal_hi, portugal_lo_x, portugal_lo, "Portugal", (809, 540))
draw_panel((47, 1077, 702, 1443), 77, 656, germany_ticks, germany_x, germany_y,
           germany_hi_x, germany_hi, germany_lo_x, germany_lo, "Germany", (57, 1048))
draw_panel((797, 1078, 1452, 1444), 830, 1408, spain_ticks, spain_x, spain_y,
           spain_hi_x, spain_hi, spain_lo_x, spain_lo, "Spain", (809, 1050))

ax_it.text(1998.9, 7.05, "Introduction of the Euro", fontsize=10.9, color=TXT, va="center")

# flags
px_rect(8, 5, 21, 30, "#1b9b54")
px_rect(21, 5, 34, 30, "#ffffff")
px_rect(34, 5, 47, 30, "#d62f40")
px_rect(762, 4, 775, 30, "#233f8c")
px_rect(775, 4, 788, 30, "#ffffff")
px_rect(788, 4, 800, 30, "#ee3340")
px_rect(9, 514, 47, 523, "#ab2a3f")
px_rect(9, 523, 47, 532, "#ffffff")
px_rect(9, 532, 47, 541, "#1d5197")
px_rect(761, 514, 776, 540, "#0c6b3a")
px_rect(776, 514, 799, 540, "#ee3030")
fig.add_artist(Circle((776 / W, 1 - 527 / H), 0.0033, transform=fig.transFigure,
                      facecolor="#f4e3b0", edgecolor="#c0392b", lw=1.0, zorder=6))
px_rect(10, 1025, 48, 1033, "#111111")
px_rect(10, 1033, 48, 1040, "#d8202c")
px_rect(10, 1040, 48, 1048, "#fdc52a")
px_rect(761, 1025, 799, 1032, "#cf2232")
px_rect(761, 1032, 799, 1044, "#fdbf2a")
px_rect(761, 1044, 799, 1051, "#cf2232")
px_rect(771, 1035, 778, 1042, "#b5652c", z=6)

# legend
fig.add_artist(Line2D([65 / W, 91 / W], [1 - 1526 / H, 1 - 1526 / H], transform=fig.transFigure,
                      color=TEAL, lw=3.7, solid_capstyle="round"))
px_rect(62, 1548, 93, 1560, BAND)
fig.text(101 / W, 1 - 1526 / H, "regression parameter (describes the relation between monetary stress and US-Dollar exchange rate)",
         fontsize=11.25, color=TXT, va="center")
fig.text(101 / W, 1 - 1555 / H, "standard deviation", fontsize=11.25, color=TXT, va="center")

fig.savefig("out.png", dpi=100, facecolor=BG)
